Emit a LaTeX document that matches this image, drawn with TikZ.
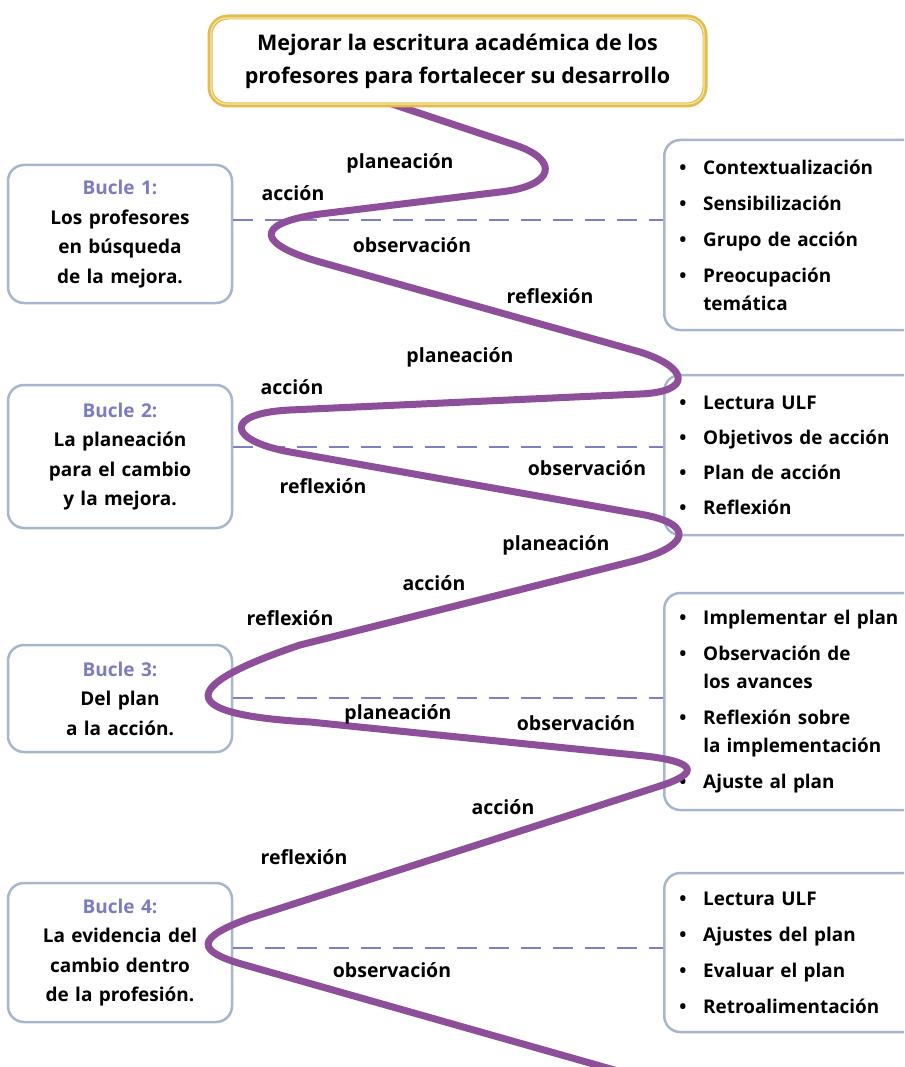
\documentclass[tikz,border=0pt]{standalone}
\usepackage{fontspec}
\setmainfont{Open Sans}
\definecolor{curvec}{HTML}{8E4F9A}
\definecolor{boxc}{HTML}{A7B6CD}
\definecolor{buclec}{HTML}{7C7CBE}
\definecolor{dashc}{HTML}{7E80C2}
\definecolor{goldc}{HTML}{E2BC4E}
\definecolor{goldl}{HTML}{F7E6A0}
\newcommand\itm[1]{\makebox[24pt][l]{•}#1}
\newcommand\cnt[1]{\hspace*{24pt}#1}
\begin{document}
\begin{tikzpicture}[x=1pt,y=-1pt,
  lbox/.style={draw=boxc, line width=2.5pt, rounded corners=16pt, fill=white,
    minimum width=224pt, text width=210pt, align=center, inner sep=0pt,
    font=\fontsize{19}{29.5}\selectfont\bfseries},
  rbox/.style={draw=boxc, line width=2.5pt, rounded corners=16pt, fill=white,
    text width=232pt, inner xsep=15pt, inner ysep=0pt, align=left, anchor=west,
    font=\fontsize{18.9}{28}\selectfont\bfseries},
  topbox/.style={draw=goldc, line width=5pt, rounded corners=18pt, fill=white,
    minimum width=495pt, minimum height=88pt, align=center, inner sep=0pt,
    font=\fontsize{21.5}{33}\selectfont\bfseries},
  lab/.style={font=\fontsize{19.5}{22}\selectfont\bfseries, inner sep=0pt},
  dashline/.style={draw=dashc, line width=2.5pt, dash pattern=on 20pt off 12pt},
  spiral/.style={draw=curvec, line width=7pt, line cap=round, line join=round}
]
\useasboundingbox (0,0) rectangle (904,1067);
\clip (0,0) rectangle (904,1067);
\fill[white] (0,0) rectangle (904,1067);

% left boxes
\node[lbox, minimum height=138pt] (b1) at (120,234)
  {\textcolor{buclec}{Bucle 1:}\\Los profesores\\en búsqueda\\de la mejora.};
\node[lbox, minimum height=143pt] (b2) at (120,456.5)
  {\textcolor{buclec}{Bucle 2:}\\La planeación\\para el cambio\\y la mejora.};
\node[lbox, minimum height=107pt] (b3) at (120,698.5)
  {\textcolor{buclec}{Bucle 3:}\\Del plan\\a la acción.};
\node[lbox, minimum height=139pt] (b4) at (120,952.5)
  {\textcolor{buclec}{Bucle 4:}\\La evidencia del\\cambio dentro\\de la profesión.};

% right boxes
\node[rbox, minimum height=190pt] (r1) at (663,235)
  {\itm{Contextualización}\\[8pt]\itm{Sensibilización}\\[8pt]\itm{Grupo de acción}\\[8pt]\itm{Preocupación}\\\cnt{temática}};
\node[rbox, minimum height=160pt] (r2) at (663,455)
  {\itm{Lectura ULF}\\[7pt]\itm{Objetivos de acción}\\[7pt]\itm{Plan de acción}\\[7pt]\itm{Reflexión}};
\node[rbox, minimum height=217pt] (r3) at (663,701.5)
  {\itm{Implementar el plan}\\[8pt]\itm{Observación de}\\\cnt{los avances}\\[8pt]\itm{Reflexión sobre}\\\cnt{la implementación}\\[8pt]\itm{Ajuste al plan}};
\node[rbox, minimum height=159pt] (r4) at (663,952.5)
  {\itm{Lectura ULF}\\[8pt]\itm{Ajustes del plan}\\[8pt]\itm{Evaluar el plan}\\[8pt]\itm{Retroalimentación}};

% dashed connectors
\coordinate (d1) at (0,220);
\coordinate (d2) at (0,447);
\coordinate (d3) at (0,698);
\coordinate (d4) at (0,948);
\draw[dashline] (b1.east |- d1) -- (r1.west |- d1);
\draw[dashline] (b2.east |- d2) -- (r2.west |- d2);
\draw[dashline] (b3.east |- d3) -- (r3.west |- d3);
\draw[dashline] (b4.east |- d4) -- (r4.west |- d4);

% spiral
\coordinate (cs) at (380,100);
\coordinate (ce) at (632,1075);
\draw[spiral] (cs) -- (515,145)
  .. controls (560,160) and (555,186) .. (500,192)
  -- (320,214)
  .. controls (250,224) and (260,245) .. (320,262)
  -- (640,352)
  .. controls (690,368) and (692,392) .. (640,394)
  -- (290,410)
  .. controls (225,413) and (225,440) .. (290,452)
  -- (645,515)
  .. controls (695,525) and (690,547) .. (630,562)
  -- (300,645)
  .. controls (172,688) and (180,715) .. (310,722)
  -- (645,756)
  .. controls (697,762) and (700,773) .. (660,786)
  -- (250,918)
  .. controls (195,938) and (195,951) .. (245,965)
  -- (ce);

% labels
\node[lab] (l1) at (400,163) {planeación};
\node[lab] (l2) at (293,193) {acción};
\node[lab] (l3) at (412,245) {observación};
\node[lab] (l4) at (550,296) {reflexión};
\node[lab] (l5) at (460,357) {planeación};
\node[lab] (l6) at (292,387) {acción};
\node[lab] (l7) at (587,468) {observación};
\node[lab] (l8) at (323,486) {reflexión};
\node[lab] (l9) at (556,545) {planeación};
\node[lab] (l10) at (434,583) {acción};
\node[lab] (l11) at (290,618) {reflexión};
\node[lab] (l12) at (398,714) {planeación};
\node[lab] (l13) at (576,723) {observación};
\node[lab] (l14) at (503,807) {acción};
\node[lab] (l15) at (304,857) {reflexión};
\node[lab] (l16) at (392,970) {observación};

% top box
\node[topbox] (top) at (457.5,61)
  {Mejorar la escritura académica de los\\profesores para fortalecer su desarrollo};
\draw[goldl, line width=1.2pt, rounded corners=16pt]
  ([shift={(3.5,3.5)}]top.north west) rectangle ([shift={(-3.5,-3.5)}]top.south east);
\end{tikzpicture}
\end{document}
